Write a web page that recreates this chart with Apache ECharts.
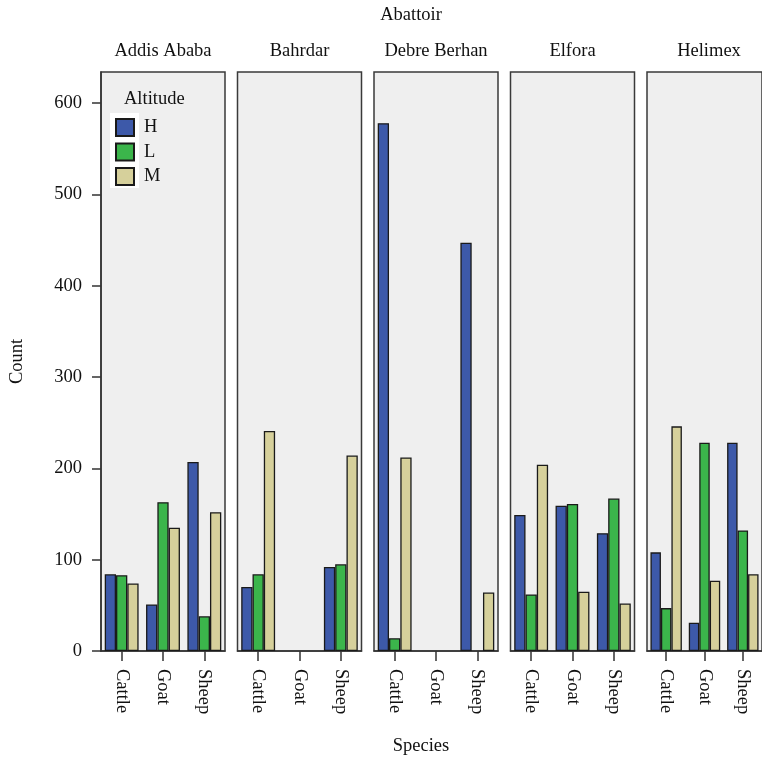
<!DOCTYPE html>
<html>
<head>
<meta charset="utf-8">
<script src="https://cdn.jsdelivr.net/npm/echarts@6/dist/echarts.min.js"></script>
<style>
  html, body { margin: 0; padding: 0; background: #fff; }
  #chart { width: 762px; height: 759px; }
</style>
</head>
<body>
<div id="chart"></div>
<script>
// facets and categories
const abattoirs = ["Addis Ababa", "Bahrdar", "Debre Berhan", "Elfora", "Helimex"]
const species = ["Cattle", "Goat", "Sheep"]
const altitudes = ["H", "L", "M"]
const yTicks = [0, 100, 200, 300, 400, 500, 600]

// counts per abattoir, order: Cattle, Goat, Sheep (null = no bar)
const countH = [
    [84, 51, 207],
    [70, null, 92],
    [578, null, 447],
    [149, 159, 129],
    [108, 31, 228]
]
const countL = [
    [83, 163, 38],
    [84, null, 95],
    [14, null, null],
    [62, 161, 167],
    [47, 228, 132]
]
const countM = [
    [74, 135, 152],
    [241, null, 214],
    [212, null, 64],
    [204, 65, 52],
    [246, 77, 84]
]

const colors = {H: '#3d59a9', L: '#3bb54b', M: '#d6d09b'}
const font = '"Liberation Serif", "DejaVu Serif", serif'
const fs = 18.5
const ink = '#111'

var chart = echarts.init(document.getElementById('chart'), null, {renderer: 'canvas'})

const panelLeft = 101, panelStep = 136.5, panelWidth = 124
const panelTop = 72, panelBottom = 651
const yMax = 634

let grids = [], xAxes = [], yAxes = [], series = [], titles = []

titles.push({text: 'Abattoir', left: 411, top: 6, padding: 0, textAlign: 'center',
    textStyle: {fontFamily: font, fontSize: fs, fontWeight: 'normal', color: ink}})
titles.push({text: 'Species', left: 421, top: 737, padding: 0, textAlign: 'center',
    textStyle: {fontFamily: font, fontSize: fs, fontWeight: 'normal', color: ink}})

for (var i = 0; i < abattoirs.length; i++) {
    const left = panelLeft + i * panelStep
    grids.push({
        left: left, top: panelTop, width: panelWidth, height: panelBottom - panelTop,
        show: true, backgroundColor: '#efefef', borderColor: '#3a3a3a', borderWidth: 1.5
    })
    titles.push({text: abattoirs[i], left: left + panelWidth / 2, top: 42, padding: 0, textAlign: 'center',
        textStyle: {fontFamily: font, fontSize: fs, fontWeight: 'normal', color: ink}})
    xAxes.push({
        type: 'category', gridIndex: i, data: species,
        axisLine: {show: true, lineStyle: {color: '#333', width: 1.5}},
        axisTick: {show: true, alignWithLabel: true, length: 10, lineStyle: {color: '#333', width: 1.5}},
        axisLabel: {rotate: -90, margin: 18, fontFamily: font, fontSize: fs, color: ink}
    })
    yAxes.push({
        type: 'value', gridIndex: i, min: 0, max: yMax, interval: 100,
        show: i === 0,
        name: i === 0 ? 'Count' : '', nameLocation: 'middle', nameGap: 74, nameRotate: 90,
        nameTextStyle: {fontFamily: font, fontSize: fs, color: ink},
        axisLine: {show: true, lineStyle: {color: '#333', width: 1.5}},
        axisTick: {show: true, length: 9, customValues: yTicks, lineStyle: {color: '#333', width: 1.5}},
        axisLabel: {customValues: yTicks, margin: 19, fontFamily: font, fontSize: fs, color: ink},
        splitLine: {show: false}
    })
    const sets = {H: countH[i], L: countL[i], M: countM[i]}
    altitudes.forEach(a => {
        series.push({
            name: a, type: 'bar', xAxisIndex: i, yAxisIndex: i,
            data: sets[a], barGap: '0%', barCategoryGap: '18%',
            itemStyle: {color: colors[a], borderColor: '#1a1a1a', borderWidth: 1.3},
            emphasis: {disabled: true}
        })
    })
}

var option = {
    animation: false,
    backgroundColor: '#fff',
    title: titles,
    grid: grids,
    xAxis: xAxes,
    yAxis: yAxes,
    series: series,
    legend: {
        data: altitudes, orient: 'vertical', left: 115, top: 118, icon: 'rect', padding: 0,
        itemWidth: 18, itemHeight: 17, itemGap: 5.5,
        textStyle: {fontFamily: font, fontSize: fs, lineHeight: 17, color: ink, padding: [0, 0, 0, 5]}
    },
    graphic: [
        {type: 'rect', z: 1, shape: {x: 110, y: 113, width: 29, height: 75}, style: {fill: '#fff'}},
        {type: 'text', z: 2, left: 124, top: 90,
            style: {text: 'Altitude', font: fs + 'px ' + font, fill: ink}}
    ]
}

chart.setOption(option)
</script>
</body>
</html>
